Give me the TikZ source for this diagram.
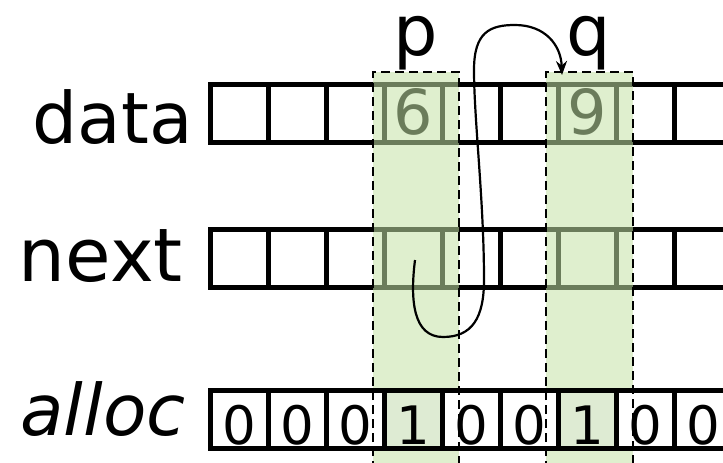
\documentclass[tikz,border=0pt]{standalone}
\usepackage{fontspec}
\setmainfont{DejaVu Sans}
\usetikzlibrary{arrows.meta}
\definecolor{bandgreen}{RGB}{196,226,166}
\definecolor{lightband}{RGB}{222,235,211}
\begin{document}
\begin{tikzpicture}[x=1pt,y=-1pt,
  cell/.style={draw=black, line width=5pt, minimum width=58pt, minimum height=58pt, inner sep=0pt, outer sep=0pt},
  acell/.style={cell, fill=white},
  onecell/.style={cell, fill=lightband},
  band/.style={fill=bandgreen, fill opacity=0.55},
  bandedge/.style={draw=black, line width=2pt, dash pattern=on 9pt off 5pt},
  rowlabel/.style={font=\fontsize{71}{80}\selectfont, anchor=base east, inner sep=0pt},
  ptrlabel/.style={font=\fontsize{70}{80}\selectfont, anchor=base, inner sep=0pt},
  datadigit/.style={font=\fontsize{62}{70}\selectfont, anchor=base, inner sep=0pt},
  allocdigit/.style={font=\fontsize{53}{60}\selectfont, anchor=base, inner sep=0pt},
  link/.style={draw=black, line width=2.2pt, -{Stealth[length=14pt,width=11pt]}}
]
\useasboundingbox (0,0) rectangle (723,463);
\clip (0,0) rectangle (723,463);
% data and next rows
\foreach \k in {0,...,8} {
  \node[cell] (d\k) at ({239+58*\k},113) {};
  \node[cell] (n\k) at ({239+58*\k},258) {};
}
\node[datadigit] (six) at (413,134) {6};
\node[datadigit] (nine) at (587,134) {9};
% bands
\fill[band] (373,72) rectangle (459,470);
\fill[band] (546,72) rectangle (633,470);
% alloc row
\foreach \v [count=\i from 0] in {0,0,0,1,0,0,1,0,0} {
  \ifnum\v=1
    \node[onecell] (a\i) at ({239+58*\i},419) {};
  \else
    \node[acell] (a\i) at ({239+58*\i},419) {};
  \fi
  \node[allocdigit] at ({239+58*\i},444) {\v};
}
% band edges
\draw[bandedge] (373,470) -- (373,72) -- (459,72) -- (459,470);
\draw[bandedge] (546,470) -- (546,72) -- (633,72) -- (633,470);
% labels
\node[rowlabel] (ldata) at (193,143) {data};
\node[rowlabel, font=\fontsize{74}{80}\selectfont] (lnext) at (183,281) {next};
\node[rowlabel] (lalloc) at (186,435) {\itshape alloc};
\node[ptrlabel] (p) at (416,55) {p};
\node[ptrlabel] (q) at (589,55) {q};
% link from p.next to q
\coordinate (start) at (415,260);
\coordinate (tip) at (562,75);
\draw[link] (start) .. controls (410,300) and (413,337) .. (443,337)
  .. controls (472,337) and (484,318) .. (484,280)
  .. controls (484,200) and (474,120) .. (474,70)
  .. controls (474,32) and (490,25) .. (515,25)
  .. controls (545,25) and (561,45) .. (tip);
\end{tikzpicture}
\end{document}
